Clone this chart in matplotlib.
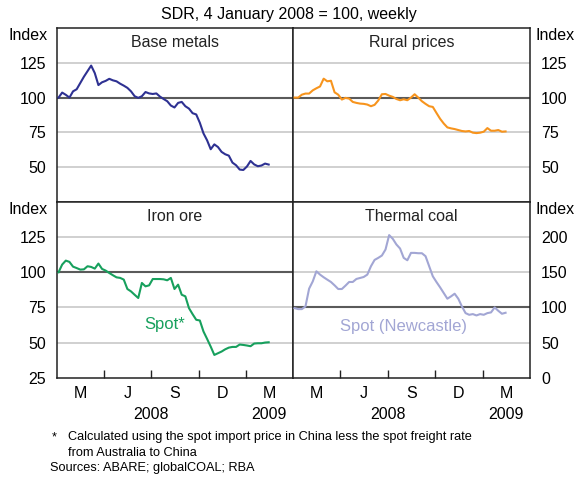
import numpy as np
import pandas as pd
import matplotlib
matplotlib.use("Agg")
import matplotlib.pyplot as plt
import matplotlib.dates as mdates
import matplotlib.transforms as mtransforms

plt.rcParams["font.family"] = ["Liberation Sans", "DejaVu Sans"]

# =========================
# DATA (weekly, SDR, 4 Jan 2008 = 100)
# =========================
fechas = pd.date_range("2008-01-04", periods=59, freq="7D")

base_metals = [100, 103.6, 102, 100, 104.5, 106, 110.5, 115, 119, 123,
               117.6, 109, 111, 112, 113.5, 112.4, 111.7, 110, 108.6, 107,
               104.5, 101, 99.8, 101, 104, 103, 102.6, 103, 100.7, 99,
               97.4, 94.3, 92.9, 96.2, 96.9, 93.8, 92.1, 88.8, 87.9, 81.9,
               74.3, 69.3, 62.9, 66.4, 64.5, 61, 59.3, 58.3, 53.3, 51.4,
               48.3, 48, 50.5, 54.5, 52, 50.7, 51.2, 52.6, 51.9]

rural = [100, 100, 102.1, 102.9, 102.9, 105.2, 106.7, 108, 113.6, 111.7,
         112.1, 103.8, 102.1, 98.6, 99.8, 99.3, 96.9, 96.2, 95.7, 95.5,
         95, 93.8, 94.8, 97.9, 102.4, 102.6, 101.4, 100.5, 99, 98.1,
         98.8, 98.1, 100, 102.4, 100, 97.4, 95.5, 93.8, 93.3, 89,
         84.8, 81.4, 78.6, 77.9, 77.4, 76.7, 76, 75.7, 76, 74.8,
         74.5, 74.8, 75.5, 78.1, 76.2, 76.2, 76.7, 75.5, 75.7]

iron_ore = [100, 105.5, 108.3, 107.4, 104, 103, 101.9, 102.1, 104.3, 103.8,
            102.6, 106.2, 102.4, 101.2, 99.5, 97.9, 96.4, 96, 94.8, 88.1,
            86.4, 84, 81.7, 92.4, 90, 90.7, 95.2, 95.2, 95.2, 95,
            94.3, 96, 88.1, 91.2, 84, 82.9, 74.5, 70.2, 66.2, 65.7,
            57.9, 52.6, 47.1, 41.2, 42.4, 43.6, 45.2, 46.4, 46.9, 46.9,
            48.6, 48.3, 47.9, 47.4, 49.3, 49.5, 49.5, 50, 50.2]

thermal_coal = [99, 97.6, 97.6, 101.4, 126.7, 137, 151.4, 146.7, 142.9, 139.5,
                136.2, 131.4, 126.2, 126.2, 131, 136.2, 136.2, 140.5, 141.9, 143.3,
                146.7, 158.6, 167.6, 170.5, 173.8, 182.4, 202.9, 197.6, 189.5, 183.8,
                170.5, 167.1, 177.6, 177.6, 177.1, 177.1, 172.9, 158.6, 144.3, 136.2,
                128.6, 120.5, 112.4, 115.7, 119.5, 112.4, 101.4, 91.9, 89.5, 90.5,
                88.6, 90.5, 89.5, 91.9, 92.9, 100, 95.2, 91, 92.4]

# =========================
# ESTILO
# =========================
col_base = "#2e3192"
col_rural = "#f7941d"
col_iron = "#17a05d"
col_coal = "#a2a6d4"
col_grid = "#c8c8c8"
col_100 = "#5a5a5a"

x0 = pd.Timestamp("2008-01-01")
x1 = pd.Timestamp("2009-04-01")
quarter_ticks = pd.to_datetime(["2008-04-01", "2008-07-01", "2008-10-01", "2009-01-01"])
month_pos = pd.to_datetime(["2008-02-15", "2008-05-16", "2008-08-16", "2008-11-15", "2009-02-14"])
month_lab = ["M", "J", "S", "D", "M"]

W, H = 577, 478
fig = plt.figure(figsize=(W / 100, H / 100), dpi=100)

left_x, mid_x, right_x = 57 / W, 293 / W, 530 / W
top_y, mid_y, bot_y = 1 - 28 / H, 1 - 202 / H, 1 - 377.7 / H

ax_bm = fig.add_axes([left_x, mid_y, mid_x - left_x, top_y - mid_y])
ax_ru = fig.add_axes([mid_x, mid_y, right_x - mid_x, top_y - mid_y])
ax_io = fig.add_axes([left_x, bot_y, mid_x - left_x, mid_y - bot_y])
ax_tc = fig.add_axes([mid_x, bot_y, right_x - mid_x, mid_y - bot_y])


def base_panel(ax, ylim, grid, line100, ticks, side, title):
    ax.set_xlim(x0, x1)
    ax.set_ylim(*ylim)
    for g in grid:
        ax.axhline(g, color=col_grid, lw=1.2, zorder=1)
    ax.axhline(line100, color=col_100, lw=1.5, zorder=2)
    ax.set_yticks(ticks)
    ax.tick_params(axis="y", length=0, labelsize=11.5, pad=8)
    if side == "right":
        ax.yaxis.tick_right()
    for s in ax.spines.values():
        s.set_color("#222222")
        s.set_linewidth(1.1)
    ax.text(0.5, 0.96, title, transform=ax.transAxes, ha="center", va="top",
            fontsize=11.5, color="#222222")


base_panel(ax_bm, (25, 150), [50, 75, 125], 100, [50, 75, 100, 125], "left", "Base metals")
base_panel(ax_ru, (25, 150), [50, 75, 125], 100, [50, 75, 100, 125], "right", "Rural prices")
base_panel(ax_io, (25, 150), [50, 75, 125], 100, [25, 50, 75, 100, 125], "left", "Iron ore")
base_panel(ax_tc, (0, 250), [50, 150, 200], 100, [0, 50, 100, 150, 200], "right", "Thermal coal")

ax_bm.plot(fechas, base_metals, color=col_base, lw=1.5, zorder=3)
ax_ru.plot(fechas, rural, color=col_rural, lw=1.5, zorder=3)
ax_io.plot(fechas, iron_ore, color=col_iron, lw=1.5, zorder=3)
ax_tc.plot(fechas, thermal_coal, color=col_coal, lw=1.5, zorder=3)

ax_io.text(pd.Timestamp("2008-07-27"), 62.6, "Spot*", color=col_iron,
           fontsize=12, ha="center", va="center")
ax_tc.text(pd.Timestamp("2008-08-01"), 73, "Spot (Newcastle)", color=col_coal,
           fontsize=12, ha="center", va="center")

# Ejes x
for ax in (ax_bm, ax_ru):
    ax.set_xticks([])
for ax in (ax_io, ax_tc):
    ax.set_xticks(quarter_ticks)
    ax.set_xticklabels([])
    ax.tick_params(axis="x", which="major", direction="in", length=6,
                   width=1, color="#222222")
    ax.set_xticks(month_pos, minor=True)
    ax.set_xticklabels(month_lab, minor=True)
    ax.tick_params(axis="x", which="minor", length=0, labelsize=11.5, pad=6)
    trans = mtransforms.blended_transform_factory(ax.transData, ax.transAxes)
    ax.text(pd.Timestamp("2008-07-01"), -0.21, "2008", transform=trans,
            ha="center", va="center", fontsize=11.5)
    ax.text(pd.Timestamp("2009-02-14"), -0.21, "2009", transform=trans,
            ha="center", va="center", fontsize=11.5)

# Etiquetas "Index"
for yy in (36, 209):
    fig.text(28 / W, 1 - yy / H, "Index", ha="center", va="center", fontsize=11.5)
    fig.text(555 / W, 1 - yy / H, "Index", ha="center", va="center", fontsize=11.5)

# Subtítulo
fig.text(0.5, 1 - 14 / H, "SDR, 4 January 2008 = 100, weekly", ha="center",
         va="center", fontsize=11.5)

# Notas
fig.text(52 / W, 1 - 437 / H, "*", ha="left", va="center", fontsize=9.2)
fig.text(68 / W, 1 - 437 / H, "Calculated using the spot import price in China less the spot freight rate",
         ha="left", va="center", fontsize=9.2)
fig.text(68 / W, 1 - 453 / H, "from Australia to China", ha="left", va="center", fontsize=9.2)
fig.text(50 / W, 1 - 468 / H, "Sources: ABARE; globalCOAL; RBA", ha="left", va="center", fontsize=9.2)

fig.savefig("out.png", dpi=100)
